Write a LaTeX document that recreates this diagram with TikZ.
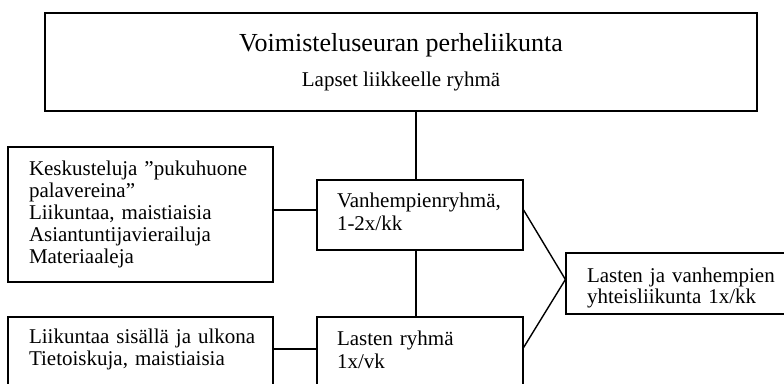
\documentclass[tikz,border=0pt]{standalone}
\usepackage{fontspec}
\setmainfont{Liberation Serif}
\newcommand{\dnstrut}[1]{\rule[-#1pt]{0pt}{#1pt}}
\newcommand{\upstrut}[1]{\rule{0pt}{#1pt}}
\begin{document}
\hyphenpenalty=10000
\exhyphenpenalty=10000
\begin{tikzpicture}[x=1pt,y=-1pt,
  box/.style={draw, line width=1.2pt, rectangle, inner sep=0pt,
    font=\fontsize{21}{22}\selectfont},
  lbox/.style={box, align=left, text width=#1},
  link/.style={line width=1.4pt},
  hlink/.style={line width=1.9pt}]
\useasboundingbox (0,0) rectangle (784,383);
\clip (0,0) rectangle (784,383);
% top box: x 45..757, y 13..111
\node[box, align=center, minimum width=712pt, minimum height=98pt,
  font=\fontsize{21}{35}\selectfont] (top) at (401,62)
  {{\fontsize{26}{30}\selectfont Voimisteluseuran perheliikunta}\\Lapset liikkeelle ryhmä};
% left box 1: x 8..273, y 147..282
\node[lbox=223pt, minimum width=265pt, minimum height=135pt] (left1) at (140.5,214.5)
  {\mbox{Keskusteluja ”pukuhuone}\\palavereina”\\\mbox{Liikuntaa, maistiaisia}\\Asiantuntijavierailuja\\Materiaaleja};
% parents' group: x 317..523, y 180..250
\node[lbox=166pt, minimum width=206pt, minimum height=70pt,
  font=\fontsize{21}{23}\selectfont] (vanh) at (420,215)
  {\mbox{Vanhempienryhmä,}\\\mbox{1-2x/kk}\dnstrut{7}};
% children's group: x 317..523, y 317..387
\node[lbox=166pt, minimum width=206pt, minimum height=70pt,
  font=\fontsize{21}{23}\selectfont] (lasten) at (420,352)
  {\mbox{Lasten ryhmä}\\\mbox{1x/vk}\dnstrut{5}};
% left box 2: x 8..273, y 317..387
\node[lbox=223pt, minimum width=265pt, minimum height=70pt] (left2) at (140.5,352)
  {\mbox{Liikuntaa sisällä ja ulkona}\\\mbox{Tietoiskuja, maistiaisia}\dnstrut{10}};
% right box: x 566..790, y 253..314
\node[lbox=182pt, minimum width=224pt, minimum height=61pt,
  font=\fontsize{21}{21.5}\selectfont] (right) at (678,283.5)
  {\upstrut{24}\mbox{Lasten ja vanhempien}\\\mbox{yhteisliikunta 1x/kk}};
% connectors
\draw[link] ([xshift=-4pt]vanh.north) -- ([xshift=-4pt]vanh.north |- top.south);
\draw[link] ([xshift=-4pt]vanh.south) -- ([xshift=-4pt]lasten.north);
\draw[hlink] ([yshift=5pt]vanh.west) -- ([yshift=5pt]vanh.west -| left1.east);
\draw[hlink] ([yshift=3pt]lasten.west) -- ([yshift=3pt]lasten.west -| left2.east);
\draw[link] ([yshift=5pt]vanh.east) -- ([yshift=4pt]right.west);
\draw[link] ([yshift=4.5pt]lasten.east) -- ([yshift=4pt]right.west);
\end{tikzpicture}
\end{document}
